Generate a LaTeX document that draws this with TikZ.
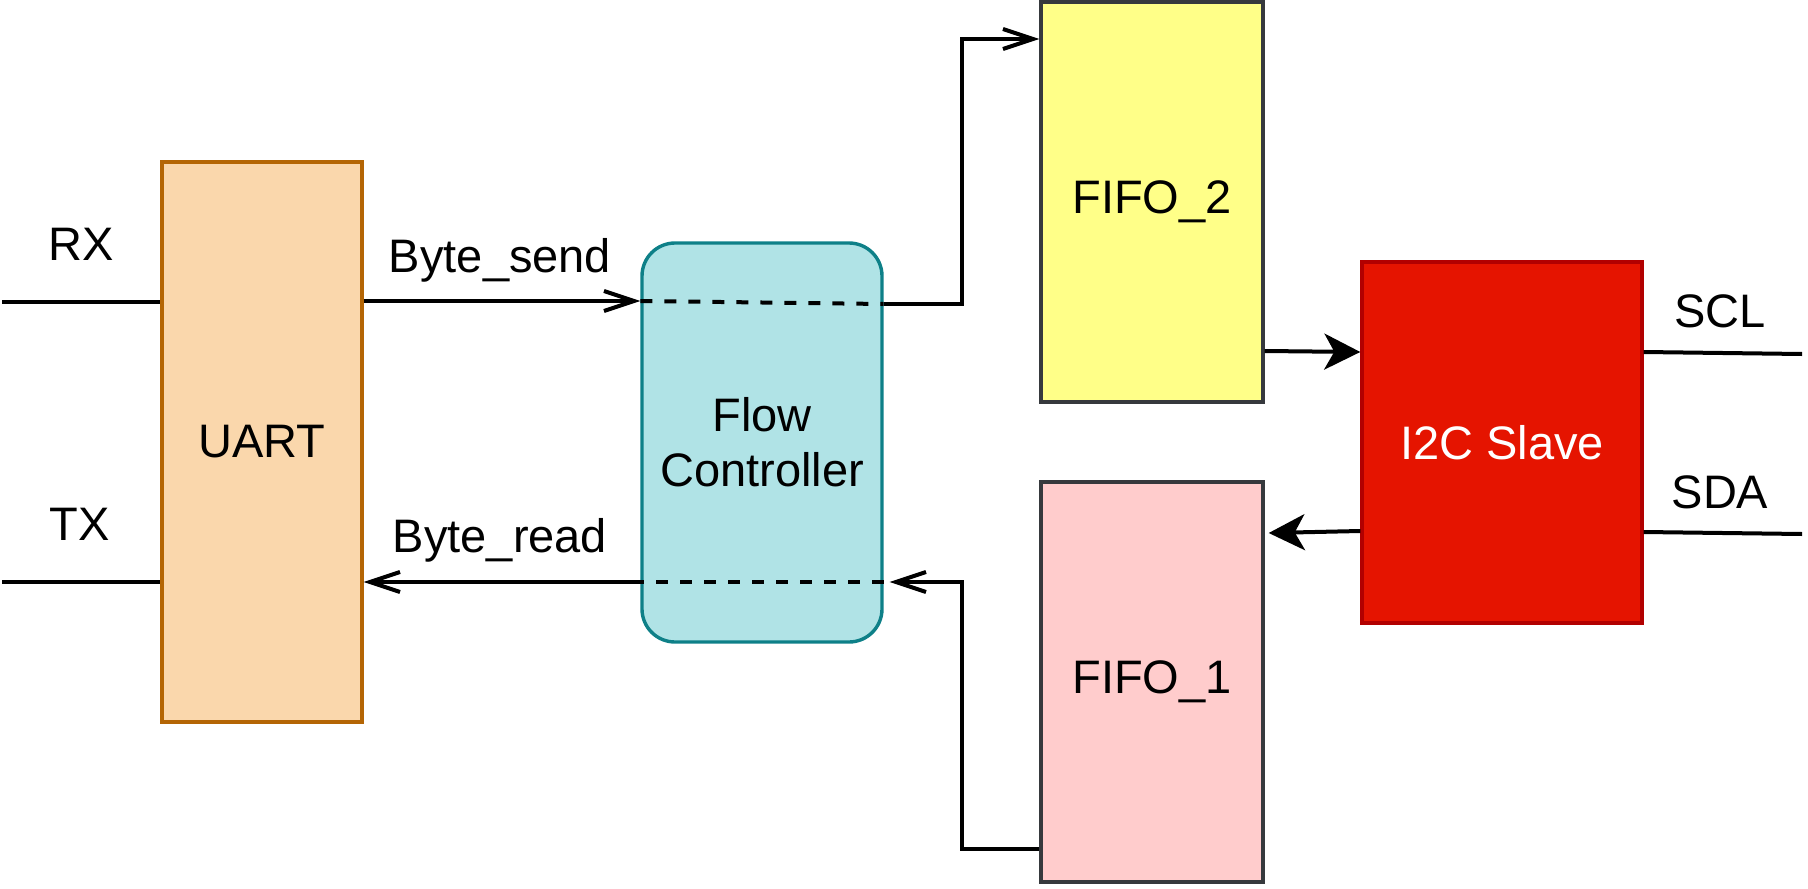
\documentclass[tikz,border=0pt]{standalone}
\usepackage{fontspec}
\setmainfont{Liberation Sans}
\usetikzlibrary{arrows.meta}
\definecolor{uartfill}{HTML}{FAD7AC}
\definecolor{uartline}{HTML}{B46504}
\definecolor{flowfill}{HTML}{B0E3E6}
\definecolor{flowline}{HTML}{0E8088}
\definecolor{fifotwofill}{HTML}{FFFF88}
\definecolor{fifoonefill}{HTML}{FFCCCC}
\definecolor{fifoline}{HTML}{36393D}
\definecolor{ictfill}{HTML}{E51400}
\definecolor{ictline}{HTML}{B20000}
\begin{document}
\begin{tikzpicture}[x=0.5pt,y=-0.5pt,
  txt/.style={font=\fontsize{23.5}{27.5}\selectfont},
  blk/.style={txt, draw, line width=1.7pt, inner sep=0pt, align=center},
  wire/.style={line width=2pt, black},
  openarr/.style={wire, -{Straight Barb[length=15pt,width=10pt]}},
  fillarr/.style={wire, -{Stealth[length=18pt,width=18pt,inset=5pt]}},
  lbl/.style={txt, anchor=base, inner sep=0pt},
  dsh/.style={wire, dash pattern=on 6pt off 6pt}]
\useasboundingbox (0,0) rectangle (1808,888);

% blocks
\node[blk, fill=uartfill, draw=uartline, minimum width=100pt, minimum height=280pt] (uart) at (262,442) {UART};
\node[blk, fill=flowfill, draw=flowline, rounded corners=16.5pt, minimum width=120pt, minimum height=199.5pt] (flow) at (762,442.5) {Flow\\Controller};
\node[blk, fill=fifotwofill, draw=fifoline, minimum width=111pt, minimum height=200pt] (fifo2) at (1152,202) {FIFO\_2};
\node[blk, fill=fifoonefill, draw=fifoline, minimum width=111pt, minimum height=200pt] (fifo1) at (1152,682) {FIFO\_1};
\node[blk, fill=ictfill, draw=ictline, text=white, minimum width=140pt, minimum height=180.5pt] (ic) at (1502,442.5) {I2C Slave};

% free ends
\coordinate (rxend) at (2,302);
\coordinate (txend) at (2,582);
\coordinate (sclend) at (1802,354);
\coordinate (sdaend) at (1802,534);

% external wires
\draw[wire] (rxend) -- (rxend -| uart.west);
\draw[wire] (txend) -- (txend -| uart.west);
\draw[wire] (ic.east |- 0,352) -- (sclend);
\draw[wire] (ic.east |- 0,532) -- (sdaend);

% Byte_send path
\draw[openarr] (uart.east |- 0,301) -- (flow.west |- 0,301);
\draw[dsh] (flow.west |- 0,301) -- (flow.east |- 0,304);
\draw[openarr] (flow.east |- 0,304) -- (962,304) -- (962,39) -- (fifo2.west |- 0,39);

% Byte_read path
\draw[openarr] (fifo1.west |- 0,849) -- (962,849) -- (962,582) -- ([xshift=3pt]flow.east |- 0,582);
\draw[dsh] (flow.east |- 0,582) -- (flow.west |- 0,582);
\draw[openarr] (flow.west |- 0,582) -- (uart.east |- 0,582);

% FIFO <-> I2C
\draw[fillarr] (fifo2.east |- 0,351) -- (ic.west |- 0,352);
\draw[fillarr] (ic.west |- 0,531) -- ([xshift=2pt]fifo1.east |- 0,533);

% labels
\node[lbl] (rxl) at (81,260) {RX};
\node[lbl] (txl) at (80,540) {TX};
\node[lbl] (bsl) at (500,272) {Byte\_send};
\node[lbl] (brl) at (500,552) {Byte\_read};
\node[lbl] (scll) at (1720,327) {SCL};
\node[lbl] (sdal) at (1720,508) {SDA};
\end{tikzpicture}
\end{document}
